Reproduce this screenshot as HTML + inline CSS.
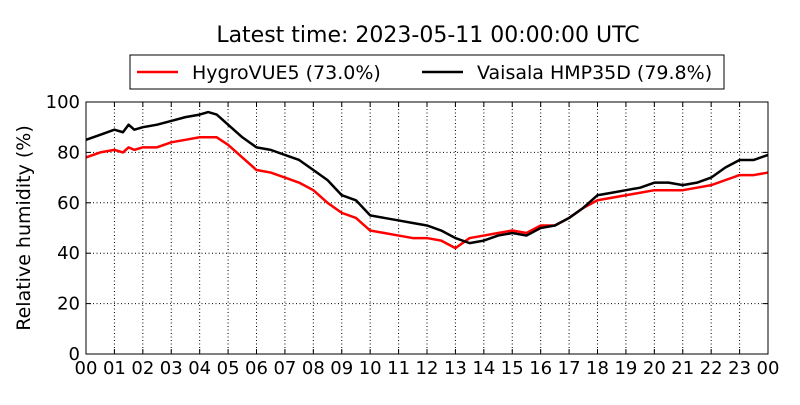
<!DOCTYPE html>
<html><head><meta charset="utf-8"><style>
body{margin:0;background:#fff;font-family:"Liberation Sans","DejaVu Sans",sans-serif}
svg text{font-family:"DejaVu Sans","Liberation Sans",sans-serif}
</style></head><body>
<svg id="chart" width="800" height="400" xmlns="http://www.w3.org/2000/svg">
<rect width="800" height="400" fill="#fff"/>
<text x="428" y="42" text-anchor="middle" font-size="22">Latest time: 2023-05-11 00:00:00 UTC</text>
<g id="grid"></g>
<g id="series"></g>
<rect x="86" y="102" width="682" height="252" fill="none" stroke="#000" stroke-width="1"/>
<g id="ticks"></g>
<text transform="translate(30,228) rotate(-90)" text-anchor="middle" font-size="19">Relative humidity (%)</text>
<g>
<rect x="130" y="55" width="594" height="34" fill="#fff" stroke="#000" stroke-width="1"/>
<g>
<line x1="137" y1="72" x2="178" y2="72" stroke="#f00" stroke-width="2.5"/>
<text x="192" y="79" font-size="19">HygroVUE5 (73.0%)</text></g>
<g>
<line x1="422" y1="72" x2="463" y2="72" stroke="#000" stroke-width="2.5"/>
<text x="477" y="79" font-size="19">Vaisala HMP35D (79.8%)</text></g>
</g>
</svg>
<script>
const hours=[0,0.5,1,1.3,1.5,1.7,2,2.5,3,3.5,4,4.3,4.6,5,5.5,6,6.5,7,7.5,8,8.5,9,9.5,10,10.5,11,11.5,12,12.5,13,13.5,14,14.5,15,15.5,16,16.5,17,17.5,18,18.5,19,19.5,20,20.5,21,21.5,22,22.5,23,23.5,24];
const vaisala=[85,87,89,88,91,89,90,91,92.5,94,95,96,95,91,86,82,81,79,77,73,69,63,61,55,54,53,52,51,49,46,44,45,47,48,47,50,51,54,58,63,64,65,66,68,68,67,68,70,74,77,77,79];
const hygro=[78,80,81,80,82,81,82,82,84,85,86,86,86,83,78,73,72,70,68,65,60,56,54,49,48,47,46,46,45,42,46,47,48,49,48,51,51,54,58,61,62,63,64,65,65,65,66,67,69,71,71,72];
const yTicks=[0,20,40,60,80,100];
const xTickLabels=["00","01","02","03","04","05","06","07","08","09","10","11","12","13","14","15","16","17","18","19","20","21","22","23","00"];
const NS="http://www.w3.org/2000/svg";
const X=h=>86+h/24*682, Y=v=>354-v/100*252;
function mk(t,a,p){const e=document.createElementNS(NS,t);for(const k in a)e.setAttribute(k,a[k]);p.appendChild(e);return e;}
const grid=document.getElementById('grid'),ticks=document.getElementById('ticks'),ser=document.getElementById('series');
xTickLabels.forEach((l,i)=>{const x=X(i);
 if(i>0&&i<24){const g=mk('line',{x1:x,x2:x,y1:102,y2:354,stroke:'#000','stroke-dasharray':'1,2.5','stroke-width':1},grid);
 }
 mk('line',{x1:x,x2:x,y1:354,y2:349,stroke:'#000'},ticks);mk('line',{x1:x,x2:x,y1:102,y2:107,stroke:'#000'},ticks);
 const t=mk('text',{x:x,y:374,'text-anchor':'middle','font-size':18},ticks);t.textContent=l;
 });
yTicks.forEach(v=>{const y=Y(v);
 if(v>0&&v<100){const g=mk('line',{x1:86,x2:768,y1:y,y2:y,stroke:'#000','stroke-dasharray':'1,2.5','stroke-width':1},grid);
 }
 mk('line',{x1:86,x2:91,y1:y,y2:y,stroke:'#000'},ticks);mk('line',{x1:763,x2:768,y1:y,y2:y,stroke:'#000'},ticks);
 const t=mk('text',{x:80,y:y+6,'text-anchor':'end','font-size':18},ticks);t.textContent=v;
 });
function line(vals,col,name){const p=mk('polyline',{points:vals.map((v,i)=>X(hours[i])+','+Y(v)).join(' '),fill:'none',stroke:col,'stroke-width':2.5,'stroke-linejoin':'round'},ser);
 }
line(hygro,'#f00','hygrovue5-line');
line(vaisala,'#000','vaisala-line');
</script>
</body></html>
